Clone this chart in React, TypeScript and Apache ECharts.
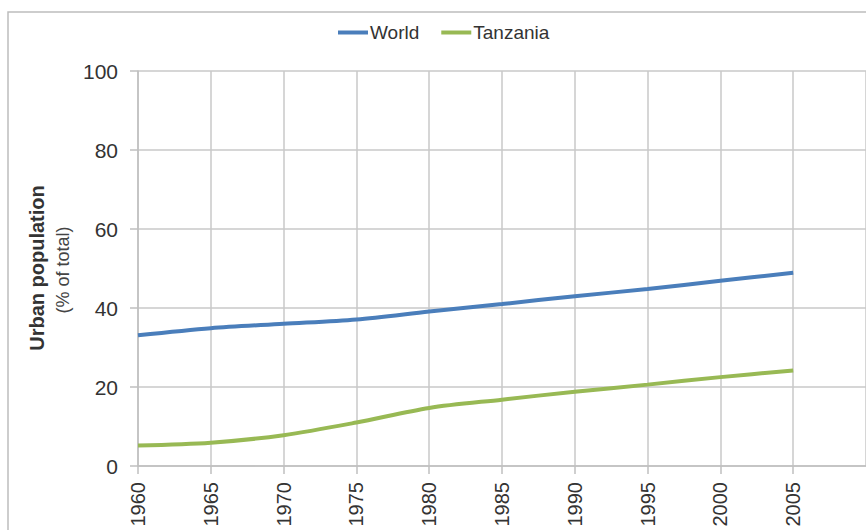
import React, { useEffect, useRef } from "react";
import * as echarts from "echarts";

const years = [1960, 1965, 1970, 1975, 1980, 1985, 1990, 1995, 2000, 2005];
const world = [33.1, 34.9, 36.0, 37.1, 39.1, 41.0, 43.0, 44.8, 46.9, 48.9];
const tanzania = [5.2, 5.9, 7.8, 11.0, 14.7, 16.8, 18.8, 20.6, 22.5, 24.2];
const seriesNames = ["World", "Tanzania"];
const yTitle = "Urban population";
const ySubtitle = "(% of total)";

const FONT = "Liberation Sans, Arial, sans-serif";

export default function App() {
  const ref = useRef<HTMLDivElement>(null);
  useEffect(() => {
    if (!ref.current) return;
    const chart = echarts.init(ref.current, undefined, { renderer: "svg" });
    chart.setOption({
      animation: false,
      backgroundColor: "#ffffff",
      textStyle: { fontFamily: FONT },
      graphic: [
        {
          type: "rect",
          shape: { x: 8, y: 12, width: 900, height: 600 },
          style: { fill: "none", stroke: "#bdbdbd", lineWidth: 1.5 },
          silent: true,
        },
        {
          type: "text",
          x: 37,
          y: 268,
          rotation: Math.PI / 2,
          style: {
            text: yTitle,
            fontSize: 20,
            fontWeight: "bold",
            fontFamily: FONT,
            fill: "#333333",
            textAlign: "center",
            textVerticalAlign: "middle",
          },
        },
        {
          type: "text",
          x: 63,
          y: 270,
          rotation: Math.PI / 2,
          style: {
            text: ySubtitle,
            fontSize: 18,
            fontFamily: FONT,
            fill: "#444444",
            textAlign: "center",
            textVerticalAlign: "middle",
          },
        },
      ],
      legend: {
        left: 333,
        top: 18,
        icon: "rect",
        itemWidth: 30,
        itemHeight: 4,
        itemGap: 22,
        data: seriesNames,
        textStyle: { fontSize: 19, color: "#333333", fontFamily: FONT, padding: [0, 0, 0, -3] },
      },
      grid: { left: 138, top: 71, right: -4, bottom: 64, containLabel: false },
      xAxis: {
        type: "value",
        min: 1960,
        max: 2010,
        interval: 5,
        axisLine: { show: true, lineStyle: { color: "#bfbfbf", width: 1.5 } },
        axisTick: { show: true, length: 8, lineStyle: { color: "#bfbfbf", width: 1.5 } },
        splitLine: { show: true, lineStyle: { color: "#c8c8c8", width: 1.5 } },
        axisLabel: {
          rotate: 90,
          margin: 16,
          fontSize: 20,
          color: "#333333",
          fontFamily: FONT,
          showMaxLabel: false,
          formatter: (v: number) => String(v),
        },
      },
      yAxis: {
        type: "value",
        min: 0,
        max: 100,
        interval: 20,
        axisLine: { show: true, lineStyle: { color: "#bfbfbf", width: 1.5 } },
        axisTick: { show: true, length: 8, lineStyle: { color: "#bfbfbf", width: 1.5 } },
        splitLine: { show: true, lineStyle: { color: "#c8c8c8", width: 1.5 } },
        axisLabel: { margin: 20, fontSize: 21, color: "#333333", fontFamily: FONT },
      },
      series: [
        {
          name: seriesNames[0],
          type: "line",
          data: years.map((y, i) => [y, world[i]]),
          symbol: "none",
          smooth: 0.3,
          lineStyle: { color: "#4a7ebb", width: 4 },
          itemStyle: { color: "#4a7ebb" },
        },
        {
          name: seriesNames[1],
          type: "line",
          data: years.map((y, i) => [y, tanzania[i]]),
          symbol: "none",
          smooth: 0.3,
          lineStyle: { color: "#98b954", width: 4 },
          itemStyle: { color: "#98b954" },
        },
      ],
    });
    return () => chart.dispose();
  }, []);
  return (
    <div
      ref={ref}
      style={{ position: "absolute", left: 0, top: 0, width: 866, height: 530 }}
    />
  );
}
